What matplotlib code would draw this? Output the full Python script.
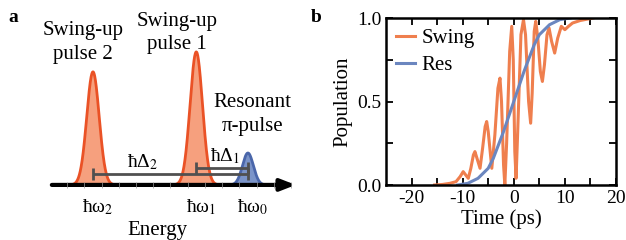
import numpy as np
import matplotlib
matplotlib.use("Agg")
import matplotlib.pyplot as plt

plt.rcParams['font.family'] = ['Liberation Serif', 'DejaVu Serif']
plt.rcParams['mathtext.fontset'] = 'stix'
plt.rcParams['axes.unicode_minus'] = False

ORANGE = '#ef7f4e'
BLUE = '#6b86bf'

# panel a: pulse energies (units of hbar*Delta_1), relative heights, widths
pulse_names = ['Swing-up\npulse 2', 'Swing-up\npulse 1', 'Resonant\n\u03c0-pulse']
pulse_centers = [-3.0, -1.0, 0.0]
pulse_heights = [0.85, 1.0, 0.24]
pulse_widths = [0.12, 0.12, 0.105]
energy_labels = ['\u0127\u03c9$_2$', '\u0127\u03c9$_1$', '\u0127\u03c9$_0$']
axis_ticks = np.arange(-3.5, 1.0, 1 / 3)

# panel b: population vs time
t_swing = [-15.5, -14, -12.5, -11.3, -10.5, -9.9, -9.4, -8.9, -8.4, -7.9, -7.6, -7.2,
           -6.6, -6.1, -5.6, -5.3, -5.0, -4.3, -3.7, -3.1, -2.7, -2.4, -2.0, -1.75,
           -1.4, -0.8, -0.4, -0.1, 0.2, 0.45, 0.8, 1.4, 1.9, 2.3, 2.9, 3.3, 3.6, 4.0,
           4.3, 4.7, 5.2, 5.6, 6.0, 6.5, 6.9, 7.4, 8.0, 8.6, 9.3, 10.0, 10.7, 11.5,
           13.0, 15.5]
p_swing = [0.0, 0.003, 0.01, 0.02, 0.05, 0.08, 0.06, 0.04, 0.10, 0.18, 0.20, 0.16,
           0.10, 0.22, 0.35, 0.38, 0.32, 0.10, 0.30, 0.58, 0.64, 0.50, 0.12, 0.0,
           0.25, 0.80, 0.95, 0.75, 0.20, 0.04, 0.35, 0.90, 0.99, 0.90, 0.50, 0.37, 0.55, 0.92,
           0.98, 0.88, 0.68, 0.62, 0.72, 0.90, 0.94, 0.86, 0.79, 0.88, 0.95, 0.93, 0.95, 0.97,
           0.985, 1.0]
t_res = list(range(-11, 12))
p_res = [0.0, 0.005, 0.01, 0.025, 0.04, 0.07, 0.10, 0.16, 0.24, 0.32, 0.41, 0.50,
         0.59, 0.68, 0.76, 0.84, 0.90, 0.93, 0.96, 0.975, 0.99, 0.995, 1.0]

fig = plt.figure(figsize=(6.26, 2.4), dpi=100)

# ---- panel a ----
ax = fig.add_axes([0, 0, 0.5, 1])
ax.set_xlim(-4.80, 1.26)
ax.set_ylim(-0.414, 1.39)
ax.axis('off')

x = np.linspace(-4, 1, 1500)
for c, h, w in zip(pulse_centers, pulse_heights, pulse_widths):
    g = h * np.exp(-0.5 * ((x - c) / w) ** 2)
    m = g > 0.004
    if c == 0.0:
        fc, ec = '#7b94c9', '#4a66aa'
    else:
        fc, ec = '#f6a07e', '#ea5226'
    ax.fill_between(x[m], 0, g[m], color=fc, lw=0, zorder=2)
    ax.plot(x[m], g[m], color=ec, lw=2, zorder=3)

# energy axis arrow
ax.annotate('', xy=(0.98, 0), xytext=(-3.85, 0),
            arrowprops=dict(arrowstyle='-|>,head_length=0.9,head_width=0.35',
                            color='black', lw=3), zorder=4)
ax.vlines(axis_ticks, -0.02, 0.02, color='#999999', lw=0.5, zorder=5)

# detuning bars
grey = '#505050'
d_y = [0.083, 0.128]
ax.hlines(d_y[0], pulse_centers[0], pulse_centers[2], color=grey, lw=2, zorder=4)
ax.vlines([pulse_centers[0], pulse_centers[2]], d_y[0] - 0.045, d_y[0] + 0.045, color=grey, lw=2, zorder=4)
ax.hlines(d_y[1], pulse_centers[1], pulse_centers[2], color=grey, lw=2, zorder=4)
ax.vlines([pulse_centers[1], pulse_centers[2]], d_y[1] - 0.045, d_y[1] + 0.045, color=grey, lw=2, zorder=4)
ax.text(-2.03, 0.17, '\u0127\u0394$_2$', fontsize=14, ha='center', va='center')
ax.text(-0.45, 0.215, '\u0127\u0394$_1$', fontsize=14, ha='center', va='center')

for c, lab in zip(pulse_centers, energy_labels):
    ax.text(c + 0.1, -0.17, lab, fontsize=14, ha='center', va='center')
ax.text(-1.76, -0.34, 'Energy', fontsize=15, ha='center', va='center')

name_pos = [(-3.19, 1.07), (-1.37, 1.14), (0.08, 0.53)]
for (px, py), name in zip(name_pos, pulse_names):
    ax.text(px, py, name, fontsize=15, ha='center', va='center', linespacing=1.3)

fig.text(13 / 626, 1 - 18 / 240, 'a', fontsize=14, fontweight='bold', ha='center', va='center')
fig.text(316 / 626, 1 - 17 / 240, 'b', fontsize=14, fontweight='bold', ha='center', va='center')

# ---- panel b ----
bx = fig.add_axes([386 / 626, 55 / 240, 230 / 626, 167 / 240])
bx.plot(t_swing, p_swing, color=ORANGE, lw=2.2, label='Swing')
bx.plot(t_res, p_res, color=BLUE, lw=2.2, label='Res')
bx.set_xlim(-25, 20)
bx.set_ylim(0, 1)
bx.set_xticks([-20, -10, 0, 10, 20])
bx.set_xticks([-15, -5, 5, 15], minor=True)
bx.set_yticks([0, 0.5, 1.0])
bx.set_yticks([0.25, 0.75], minor=True)
bx.set_yticklabels(['0.0', '0.5', '1.0'])
bx.tick_params(which='both', direction='in', top=True, right=True, labelsize=14,
               length=5, width=1.3)
for s in bx.spines.values():
    s.set_linewidth(1.8)
bx.set_xlabel('Time (ps)', fontsize=15, labelpad=2)
bx.set_ylabel('Population', fontsize=15, labelpad=3)
bx.legend(loc='upper left', frameon=False, fontsize=15, handlelength=0.9,
          handletextpad=0.3, labelspacing=0.35, borderaxespad=0.1)

fig.savefig('out.png', dpi=100)
